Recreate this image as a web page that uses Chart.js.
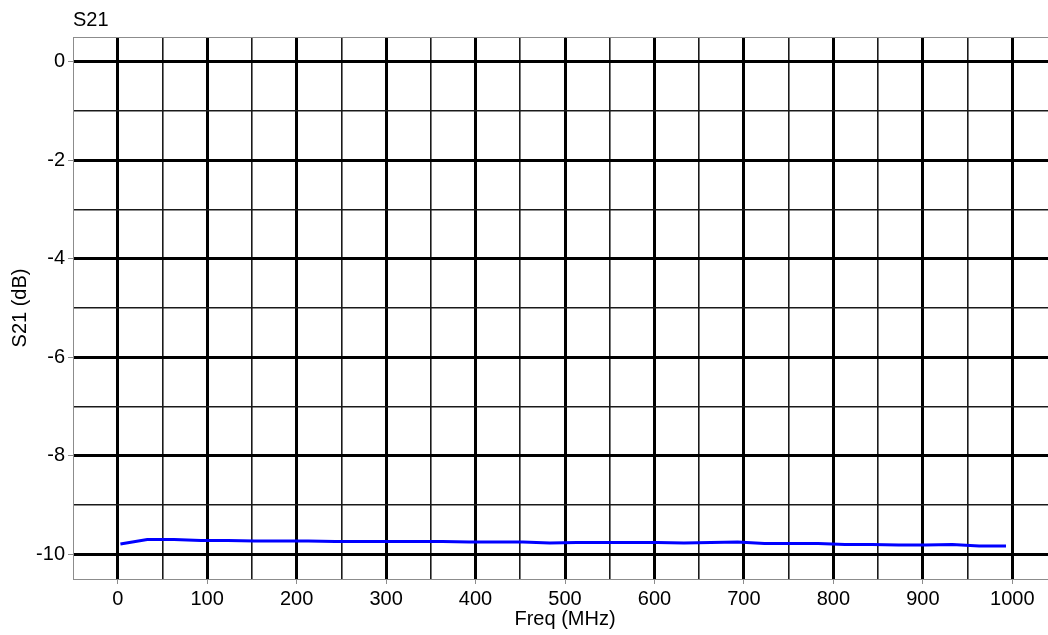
<!DOCTYPE html>
<html lang="en">
<head>
    <meta charset="UTF-8">
    <title>S21</title>
    <style>
        html, body {
            margin: 0;
            padding: 0;
            overflow: hidden;
            background: #fff;
        }
        #wrap {
            width: 1060px;
            height: 635px;
        }
    </style>
</head>
<body>
    <div id="wrap"><canvas id="s21Chart" width="1060" height="635"></canvas></div>
    <script src="https://cdn.jsdelivr.net/npm/chart.js@4.4.0/dist/chart.umd.min.js"></script>
    <script>
        // measured trace
        const freqMHz = [3, 33, 63, 93, 123, 153, 183, 213, 243, 273, 303, 333, 363, 393, 423, 453, 483,
                         513, 543, 573, 603, 633, 663, 693, 723, 753, 783, 813, 843, 873, 903, 933, 963, 993];
        const s21dB = [-9.79, -9.70, -9.70, -9.72, -9.72, -9.73, -9.73, -9.73, -9.74, -9.74, -9.74, -9.74,
                       -9.74, -9.75, -9.75, -9.75, -9.77, -9.76, -9.76, -9.76, -9.76, -9.77, -9.76, -9.75,
                       -9.78, -9.78, -9.78, -9.80, -9.80, -9.81, -9.81, -9.80, -9.83, -9.83];

        // grid / ticks
        const xGridValues = [-50, 0, 50, 100, 150, 200, 250, 300, 350, 400, 450, 500, 550,
                             600, 650, 700, 750, 800, 850, 900, 950, 1000, 1050];
        const xLabelValues = [0, 100, 200, 300, 400, 500, 600, 700, 800, 900, 1000];
        const yGridValues = [-10.5, -10, -9, -8, -7, -6, -5, -4, -3, -2, -1, 0, 0.5];
        const yLabelValues = [-10, -8, -6, -4, -2, 0];

        const borderGray = '#8c8c8c';
        const fontSpec = { family: 'Liberation Sans, Arial, sans-serif', size: 20 };

        function gridStyle(labels, min, max) {
            return {
                color: ctx => {
                    const v = ctx.tick.value;
                    if (v === min || v === max) return borderGray;
                    return labels.includes(v) ? '#000' : '#1a1a1a';
                },
                lineWidth: ctx => {
                    const v = ctx.tick.value;
                    if (v === min || v === max) return 1;
                    return labels.includes(v) ? 3 : 1.6;
                },
                tickColor: ctx => labels.includes(ctx.tick.value) ? borderGray : 'rgba(0,0,0,0)',
                tickLength: 5,
                tickWidth: 1
            };
        }

        const ctx = document.getElementById('s21Chart').getContext('2d');
        const s21Chart = new Chart(ctx, {
            type: 'line',
            data: {
                datasets: [{
                    label: 'S21',
                    data: freqMHz.map((f, i) => ({ x: f, y: s21dB[i] })),
                    borderColor: '#0000ff',
                    borderWidth: 3,
                    pointRadius: 0,
                    tension: 0,
                    fill: false
                }]
            },
            options: {
                responsive: false,
                animation: false,
                devicePixelRatio: 1,
                layout: { padding: { left: 0, right: 2, top: 0, bottom: 0 } },
                plugins: {
                    legend: { display: false },
                    tooltip: { enabled: false },
                    title: {
                        display: true,
                        text: 'S21',
                        align: 'start',
                        fullSize: false,
                        color: '#000',
                        font: { ...fontSpec, weight: 'normal' },
                        padding: { top: 8, bottom: 5 }
                    }
                },
                scales: {
                    x: {
                        type: 'linear',
                        min: -50,
                        max: 1050,
                        afterBuildTicks: scale => { scale.ticks = xGridValues.map(v => ({ value: v })); },
                        afterFit: scale => { scale.height = 56; },
                        grid: gridStyle(xLabelValues, -50, 1050),
                        border: { display: true, color: borderGray, width: 1 },
                        ticks: {
                            autoSkip: false,
                            maxRotation: 0,
                            padding: 3,
                            color: '#000',
                            font: fontSpec,
                            callback: v => xLabelValues.includes(v) ? String(v) : ''
                        },
                        title: {
                            display: true,
                            text: 'Freq (MHz)',
                            color: '#000',
                            font: fontSpec,
                            padding: { top: 0, bottom: 4 }
                        }
                    },
                    y: {
                        type: 'linear',
                        min: -10.5,
                        max: 0.5,
                        afterBuildTicks: scale => { scale.ticks = yGridValues.map(v => ({ value: v })); },
                        afterFit: scale => { scale.width = 73; },
                        grid: gridStyle(yLabelValues, -10.5, 0.5),
                        border: { display: true, color: borderGray, width: 1 },
                        ticks: {
                            autoSkip: false,
                            padding: 3,
                            color: '#000',
                            font: fontSpec,
                            callback: v => yLabelValues.includes(v) ? String(v) : ''
                        },
                        title: {
                            display: true,
                            text: 'S21 (dB)',
                            color: '#000',
                            font: fontSpec,
                            padding: { top: 8, bottom: 0 }
                        }
                    }
                }
            }
        });
    </script>
</body>
</html>
